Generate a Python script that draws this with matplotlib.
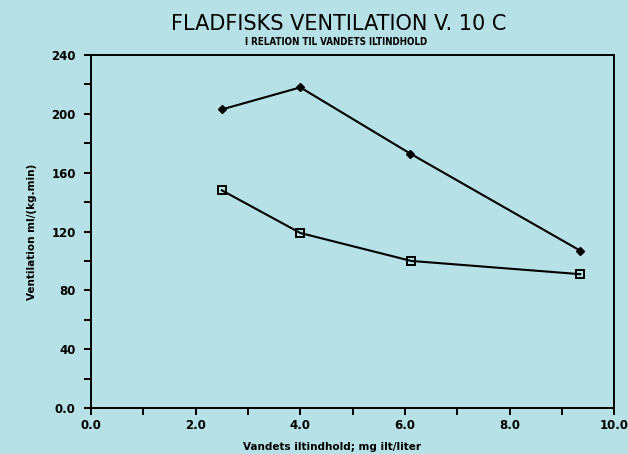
import matplotlib
matplotlib.use("Agg")
import matplotlib.pyplot as plt
from matplotlib.ticker import MultipleLocator, FormatStrFormatter

# Data
oxygen_upper = [2.5, 4.0, 6.1, 9.35]
vent_upper = [203, 218, 173, 107]
oxygen_lower = [2.5, 4.0, 6.12, 9.35]
vent_lower = [148, 119, 100, 91]

title = "FLADFISKS VENTILATION V. 10 C"
subtitle = "I RELATION TIL VANDETS ILTINDHOLD"
xlabel = "Vandets iltindhold; mg ilt/liter"
ylabel = "Ventilation ml/(kg.min)"

bg = "#b6e1e6"
fig = plt.figure(figsize=(6.28, 4.54), dpi=100, facecolor=bg)
ax = fig.add_axes([0.145, 0.1013, 0.833, 0.7775])
ax.set_facecolor(bg)

ax.plot(oxygen_upper, vent_upper, color="black", lw=1.5, marker="D",
        markersize=4.5, markerfacecolor="black", markeredgecolor="black")
ax.plot(oxygen_lower, vent_lower, color="black", lw=1.5, marker="s",
        markersize=6, markerfacecolor="none", markeredgecolor="black",
        markeredgewidth=1.4)

ax.set_xlim(0, 10)
ax.set_ylim(0, 240)
ax.xaxis.set_major_locator(MultipleLocator(2))
ax.xaxis.set_minor_locator(MultipleLocator(1))
ax.yaxis.set_major_locator(MultipleLocator(40))
ax.yaxis.set_minor_locator(MultipleLocator(20))
ax.xaxis.set_major_formatter(FormatStrFormatter("%.1f"))


def yfmt(v, pos):
    return "0.0" if v == 0 else "%d" % v

ax.yaxis.set_major_formatter(plt.FuncFormatter(yfmt))

for s in ax.spines.values():
    s.set_linewidth(1.4)
ax.tick_params(which="both", direction="out", width=1.4, top=False, right=False)
ax.tick_params(which="major", length=5, labelsize=8.5)
ax.tick_params(which="minor", length=5)
ax.tick_params(axis="x", which="major", pad=3)
ax.tick_params(axis="y", which="major", pad=6)
for lab in ax.get_xticklabels() + ax.get_yticklabels():
    lab.set_fontweight("bold")

ax.set_xlabel(xlabel, fontsize=7.5, fontweight="bold", labelpad=9)
ax.xaxis.set_label_coords(0.46, -0.095)
ax.set_ylabel(ylabel, fontsize=7.5, fontweight="bold", labelpad=10)

fig.text(0.54, 0.948, title, ha="center", va="center", fontsize=15)
fig.text(0.535, 0.907, subtitle, ha="center", va="center", fontsize=7,
         fontweight="bold", fontstretch="condensed")

fig.savefig("out.png", dpi=100, facecolor=bg)
